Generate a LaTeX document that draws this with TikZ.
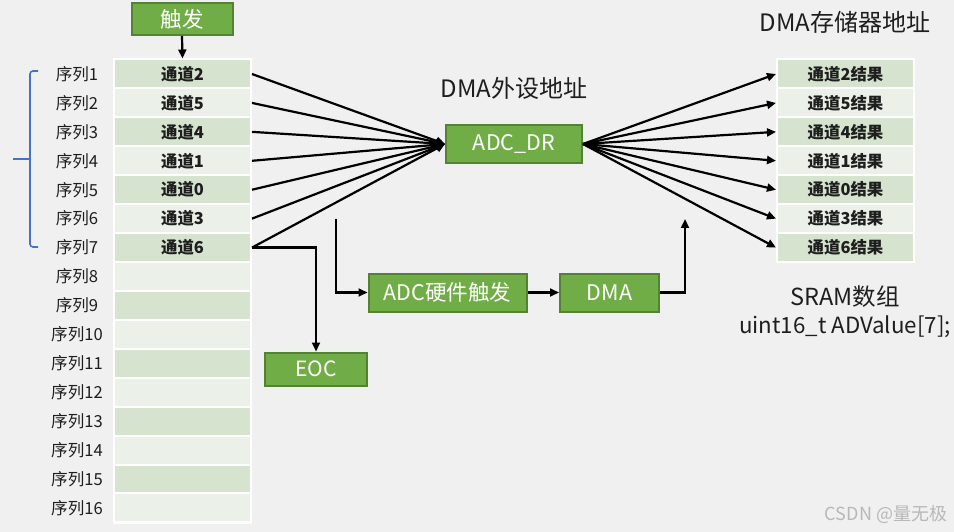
\documentclass[tikz,border=0pt]{standalone}
\usepackage{fontspec}
\setmainfont{Noto Sans CJK SC}
\usetikzlibrary{arrows.meta}
\definecolor{bg}{HTML}{F0F0F0}
\definecolor{gfill}{HTML}{70AD47}
\definecolor{gdraw}{HTML}{548235}
\definecolor{rowA}{HTML}{D6E3CF}
\definecolor{rowB}{HTML}{EBF0E8}
\definecolor{bracec}{HTML}{4472C4}
\definecolor{txt}{HTML}{1E1E1E}
\begin{document}
\begin{tikzpicture}[x=1pt,y=-1pt,
  gbox/.style={draw=gdraw,line width=2pt,fill=gfill,text=white,font=\fontsize{21.5}{25}\selectfont,inner sep=0pt},
  rowbase/.style={draw=white,line width=2pt,minimum width=137pt,minimum height=29pt,inner sep=0pt,text=txt,font=\bfseries\fontsize{16.4}{19}\selectfont},
  rowa/.style={rowbase,fill=rowA},
  rowb/.style={rowbase,fill=rowB},
  seqlab/.style={text=txt,font=\fontsize{16.6}{19}\selectfont,inner sep=0pt},
  biglab/.style={text=txt,font=\fontsize{24}{28}\selectfont,inner sep=0pt},
  conn/.style={line width=2.2pt,-{Triangle[length=9pt,width=8pt]}}
]
\useasboundingbox (0,0) rectangle (954,532);
\fill[bg] (0,0) rectangle (954,532);
\fill[white] (113,59) rectangle (252,524);
\fill[white] (776,59) rectangle (915,263);

% left table rows
\foreach \i/\t in {1/通道2,2/通道5,3/通道4,4/通道1,5/通道0,6/通道3,7/通道6,8/,9/,10/,11/,12/,13/,14/,15/,16/}{
  \pgfmathtruncatemacro{\rp}{mod(\i,2)}
  \ifnum\rp=1
    \node[rowa] (L\i) at (182.5,{74+(\i-1)*28.93}) {\t};
  \else
    \node[rowb] (L\i) at (182.5,{74+(\i-1)*28.93}) {\t};
  \fi
  \node[seqlab] (S\i) at (77,{74+(\i-1)*28.93}) {序列\i};
}

% right table rows
\foreach \i/\t in {1/通道2结果,2/通道5结果,3/通道4结果,4/通道1结果,5/通道0结果,6/通道3结果,7/通道6结果}{
  \pgfmathtruncatemacro{\rp}{mod(\i,2)}
  \ifnum\rp=1
    \node[rowa] (R\i) at (845.5,{74+(\i-1)*28.93}) {\t};
  \else
    \node[rowb] (R\i) at (845.5,{74+(\i-1)*28.93}) {\t};
  \fi
}

% brace
\draw[bracec,line width=1.6pt,rounded corners=3pt] (38,71) -- (30,71) -- (30,247) -- (38,247);
\draw[bracec,line width=1.6pt] (30,159) -- (13,159);

% green boxes
\node[gbox,minimum width=101pt,minimum height=32pt] (trig) at (182,19) {触发};
\node[gbox,minimum width=136pt,minimum height=38pt] (adc) at (514,144) {ADC\_DR};
\node[gbox,minimum width=102pt,minimum height=33pt,font=\fontsize{21}{25}\selectfont] (eoc) at (316,369) {EOC};
\node[gbox,minimum width=158pt,minimum height=38pt] (hw) at (447.5,292.5) {ADC硬件触发};
\node[gbox,minimum width=99pt,minimum height=38pt] (dma) at (609.5,292.5) {DMA};

% labels
\node[biglab] (plab) at (514,88) {DMA外设地址};
\node[biglab] (mlab) at (845,22) {DMA存储器地址};
\node[biglab,font=\fontsize{23.5}{28}\selectfont] (slab) at (845,297) {SRAM数组};
\node[biglab,font=\fontsize{22.3}{26}\selectfont] (vlab) at (845,327) {uint16\_t ADValue[7];};
\node[text=black!28,font=\fontsize{18}{21}\selectfont,inner sep=0pt] (wm) at (886,514) {CSDN @量无极};

% connectors
\draw[conn] (trig.south) -- (L1.north);
\foreach \i in {1,...,7}{
  \draw[conn] (L\i.east) -- (adc.west);
  \draw[conn] (adc.east) -- (R\i.west);
}
\draw[conn] (L7.east) -| (eoc.north);
\coordinate (c1) at (336,219);
\coordinate (c2) at (685,219);
\draw[conn] (c1) |- (hw.west);
\draw[conn] (hw.east) -- (dma.west);
\draw[conn] (dma.east) -| (c2);
\end{tikzpicture}
\end{document}
